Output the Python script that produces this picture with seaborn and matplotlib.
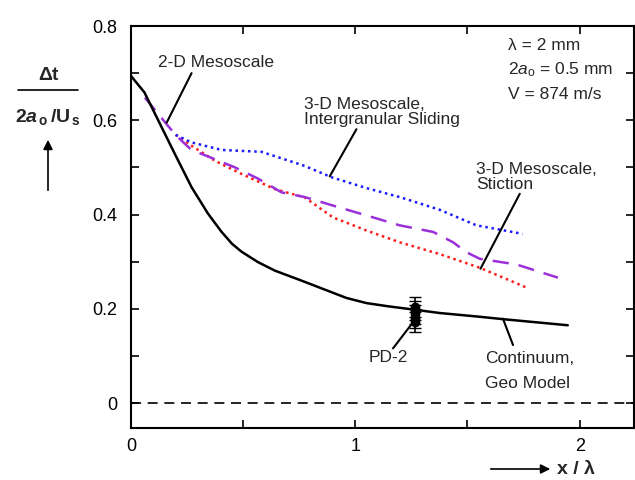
import numpy as np
import pandas as pd
import seaborn as sns
import matplotlib
matplotlib.use("Agg")
import matplotlib.pyplot as plt
from matplotlib.patches import FancyArrowPatch
from matplotlib.ticker import FixedLocator, FixedFormatter

# continuum, geo model (solid black)
cont_x = [0.0, 0.06, 0.196, 0.27, 0.343, 0.404, 0.45, 0.493, 0.566, 0.641, 0.775, 0.9, 0.96, 1.05, 1.15, 1.265, 1.376, 1.555, 1.657, 1.947]
cont_y = [0.694, 0.659, 0.528, 0.458, 0.402, 0.363, 0.338, 0.321, 0.299, 0.281, 0.257, 0.234, 0.223, 0.212, 0.205, 0.198, 0.191, 0.183, 0.178, 0.165]

# 2-D mesoscale (purple dashed)
meso2_x = [0.062, 0.165, 0.199, 0.24, 0.27, 0.36, 0.463, 0.567, 0.671, 0.775, 0.9, 1.05, 1.198, 1.347, 1.436, 1.495, 1.555, 1.718, 1.903]
meso2_y = [0.648, 0.588, 0.569, 0.550, 0.537, 0.520, 0.500, 0.476, 0.447, 0.437, 0.419, 0.398, 0.377, 0.363, 0.341, 0.320, 0.306, 0.294, 0.266]

# 3-D mesoscale, intergranular sliding (blue dotted)
slide_x = [0.199, 0.27, 0.404, 0.582, 0.775, 0.894, 1.05, 1.198, 1.376, 1.54, 1.644, 1.745]
slide_y = [0.569, 0.553, 0.537, 0.533, 0.503, 0.479, 0.456, 0.437, 0.410, 0.377, 0.368, 0.359]

# 3-D mesoscale, stiction (red dotted)
stic_x = [0.199, 0.27, 0.374, 0.493, 0.641, 0.775, 0.9, 1.05, 1.198, 1.376, 1.555, 1.763]
stic_y = [0.569, 0.546, 0.514, 0.486, 0.454, 0.436, 0.394, 0.366, 0.341, 0.316, 0.287, 0.245]

# PD-2 experiment
pd2_x = [1.265, 1.265, 1.265, 1.265, 1.265]
pd2_y = [0.172, 0.180, 0.188, 0.196, 0.203]
pd2_err = [0.022, 0.02, 0.02, 0.02, 0.021]

xticks = [0, 1, 2]
xlabels = ["0", "1", "2"]
yticks = [0, 0.2, 0.4, 0.6, 0.8]
ylabels = ["0", "0.2", "0.4", "0.6", "0.8"]

sns.set_style("ticks")
plt.rcParams["font.family"] = ["Liberation Sans", "DejaVu Sans"]
plt.rcParams["mathtext.fontset"] = "custom"
plt.rcParams["mathtext.rm"] = "Liberation Sans"
plt.rcParams["mathtext.it"] = "Liberation Sans:italic"
plt.rcParams["mathtext.bf"] = "Liberation Sans:bold"
plt.rcParams["mathtext.bfit"] = "Liberation Sans:italic:bold"

fig = plt.figure(figsize=(6.35, 4.8), dpi=100)
ax = fig.add_axes([131 / 635, 52 / 480, 502.5 / 635, 402 / 480])

cont = pd.DataFrame({"x": cont_x, "y": cont_y})
meso2 = pd.DataFrame({"x": meso2_x, "y": meso2_y})
slide = pd.DataFrame({"x": slide_x, "y": slide_y})
stic = pd.DataFrame({"x": stic_x, "y": stic_y})

sns.lineplot(data=stic, x="x", y="y", sort=False, ax=ax, color="#ff1a1a", lw=1.8, linestyle=(0, (1, 1.5)))
sns.lineplot(data=slide, x="x", y="y", sort=False, ax=ax, color="#1a1aff", lw=1.8, linestyle=(0, (1, 1.5)))
sns.lineplot(data=meso2, x="x", y="y", sort=False, ax=ax, color="#9b30d9", lw=1.8, linestyle=(0, (6.5, 4)))
sns.lineplot(data=cont, x="x", y="y", sort=False, ax=ax, color="black", lw=1.8)

ax.axhline(0, color="black", lw=1.2, ls=(0, (6, 4)))

ax.errorbar(pd2_x, pd2_y, yerr=pd2_err, fmt="o", color="black", ms=6, capsize=4, elinewidth=1.2)

ax.set_xlim(0, 2.24)
ax.set_ylim(-0.053, 0.8)
ax.xaxis.set_major_locator(FixedLocator(xticks))
ax.xaxis.set_major_formatter(FixedFormatter(xlabels))
ax.xaxis.set_minor_locator(FixedLocator([0.5, 1.5]))
ax.yaxis.set_major_locator(FixedLocator(yticks))
ax.yaxis.set_major_formatter(FixedFormatter(ylabels))
ax.yaxis.set_minor_locator(FixedLocator([0.1, 0.3, 0.5, 0.7]))
ax.tick_params(which="both", direction="in", top=True, right=True, width=1.2, labelsize=13, colors="black")
ax.tick_params(which="major", length=6)
ax.tick_params(which="minor", length=6)
ax.tick_params(axis="y", which="major", pad=10)
ax.tick_params(axis="x", which="major", pad=7)
for s in ax.spines.values():
    s.set_linewidth(1.5)
    s.set_color("black")
ax.set_xlabel("")
ax.set_ylabel("")

fs = 12.5
ax.text(0.12, 0.722, "2-D Mesoscale", fontsize=fs, va="center")
ax.plot([0.27, 0.159], [0.70, 0.595], color="black", lw=1.5)

ax.text(0.77, 0.585, "3-D Mesoscale,\nIntergranular Sliding", fontsize=fs, va="bottom", linespacing=1.0)
ax.plot([1.005, 0.886], [0.581, 0.481], color="black", lw=1.5)

ax.text(1.54, 0.448, "3-D Mesoscale,\nStiction", fontsize=fs, va="bottom", linespacing=1.0)
ax.plot([1.733, 1.558], [0.444, 0.285], color="black", lw=1.5)

ax.text(1.145, 0.097, "PD-2", fontsize=fs, ha="center", va="center")
ax.plot([1.168, 1.247], [0.116, 0.165], color="black", lw=1.5)

ax.text(1.577, 0.095, "Continuum,", fontsize=fs, va="center")
ax.text(1.577, 0.042, "Geo Model", fontsize=fs, va="center")
ax.plot([1.703, 1.658], [0.123, 0.179], color="black", lw=1.5)

ax.text(1.68, 0.758, "λ = 2 mm", fontsize=fs, va="center")
ax.text(1.68, 0.707, r"2$\mathit{a}_{\mathrm{o}}$ = 0.5 mm", fontsize=fs, va="center")
ax.text(1.68, 0.654, "V = 874 m/s", fontsize=fs, va="center")

# y label as a fraction with an arrow under it
fig.text(48 / 635, 1 - 75 / 480, "Δt", fontsize=14, fontweight="bold", ha="center", va="center")
fig.add_artist(plt.Line2D([18 / 635, 78 / 635], [1 - 90 / 480, 1 - 90 / 480], color="black", lw=1.2))
fig.text(48 / 635, 1 - 117 / 480, r"$\mathbf{2}\mathbfit{a}_{\,\mathbf{o}}\,\mathbf{/U}_{\,\mathbf{s}}$",
         fontsize=14, ha="center", va="center")
fig.add_artist(FancyArrowPatch((48 / 635, 1 - 193 / 480), (48 / 635, 1 - 137 / 480),
                               transform=fig.transFigure, arrowstyle="-|>",
                               mutation_scale=14, color="black", lw=1.2))

# x label with an arrow in front
fig.add_artist(FancyArrowPatch((488 / 635, 1 - 469 / 480), (553 / 635, 1 - 469 / 480),
                               transform=fig.transFigure, arrowstyle="-|>",
                               mutation_scale=14, color="black", lw=1.2))
fig.text(557 / 635, 1 - 469 / 480, "x / λ", fontsize=14, fontweight="bold", ha="left", va="center")

fig.savefig("out.png", dpi=100)
